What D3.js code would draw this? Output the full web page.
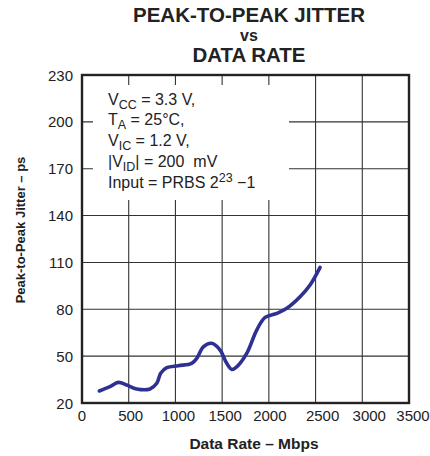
<!DOCTYPE html>
<html>
<head>
<meta charset="utf-8">
<script src="https://d3js.org/d3.v7.min.js"></script>
<style>
  body { margin: 0; background: #fff; }
  svg text { font-family: "Liberation Sans", Arial, sans-serif; fill: #222; }
  .grid line { stroke: #333; stroke-width: 1.1; }
</style>
</head>
<body>
<div id="chart"></div>
<script>
var xTicks = [0, 500, 1000, 1500, 2000, 2500, 3000, 3500];
var yTicks = [20, 50, 80, 110, 140, 170, 200, 230];

// data rate (Mbps) and jitter (ps)
var rate   = [185, 300, 389, 478, 585, 728, 800, 842, 907, 1031, 1174, 1228, 1299, 1389, 1478, 1549, 1603, 1656, 1763, 1870, 1960, 2085, 2192, 2334, 2441, 2548];
var jitter = [27.7, 30.5, 33.2, 31.5, 29, 29, 32.6, 39, 42.6, 43.9, 45.4, 48.6, 56, 58.2, 53.9, 45.4, 41.5, 43.2, 51.8, 66.7, 74.8, 77.4, 80.6, 88, 95.5, 106.8];

var margin = {top: 75, left: 82},
    width = 327, height = 328;

var svg = d3.select('#chart').append('svg')
  .attr('width', 430)
  .attr('height', 456);

var x = d3.scaleLinear().domain([0, 3500]).range([0, width]);
var y = d3.scaleLinear().domain([20, 230]).range([height, 0]);

var g = svg.append('g')
  .attr('transform', 'translate(' + margin.left + ',' + margin.top + ')');

// grid
var grid = g.append('g').attr('class', 'grid');
grid.selectAll('.vx')
  .data(xTicks.slice(1, -1))
  .enter().append('line')
  .attr('x1', function(d) { return x(d); })
  .attr('x2', function(d) { return x(d); })
  .attr('y1', 0).attr('y2', height);
grid.selectAll('.hy')
  .data(yTicks.slice(1, -1))
  .enter().append('line')
  .attr('y1', function(d) { return y(d); })
  .attr('y2', function(d) { return y(d); })
  .attr('x1', 0).attr('x2', width);

// white box behind the conditions
g.append('rect')
  .attr('x', 11).attr('y', 10)
  .attr('width', 196).attr('height', 115)
  .attr('fill', '#fff');

// frame
g.append('rect')
  .attr('width', width).attr('height', height)
  .attr('fill', 'none')
  .attr('stroke', '#222')
  .attr('stroke-width', 2.4);

// tick labels
g.selectAll('.ylab')
  .data(yTicks)
  .enter().append('text')
  .attr('x', -9)
  .attr('y', function(d) { return y(d) + 5.5; })
  .attr('text-anchor', 'end')
  .style('font-size', '15px')
  .text(function(d) { return d; });

// labels in the original sit a little off their grid lines
var xNudge = [0, 2, 3, 3, 1, 7, 7, 4];
g.selectAll('.xlab')
  .data(xTicks)
  .enter().append('text')
  .attr('x', function(d, i) { return x(d) + xNudge[i]; })
  .attr('y', height + 18)
  .attr('text-anchor', 'middle')
  .style('font-size', '15px')
  .text(function(d) { return d; });

// curve
var line = d3.line()
  .curve(d3.curveCatmullRom)
  .x(function(d, i) { return x(rate[i]); })
  .y(function(d) { return y(d); });

g.append('path')
  .datum(jitter)
  .attr('d', line)
  .attr('fill', 'none')
  .attr('stroke', '#2e3192')
  .attr('stroke-width', 3.6)
  .attr('stroke-linecap', 'round');

// conditions text
var notes = g.append('g')
  .attr('transform', 'translate(26, 0)')
  .style('font-size', '16px');

function note(yy, parts) {
  var t = notes.append('text').attr('y', yy);
  parts.forEach(function(p) {
    var s = t.append('tspan').text(p[0]);
    if (p[1] == 'sub') s.attr('baseline-shift', '-4').style('font-size', '12.5px');
    if (p[1] == 'sup') s.attr('baseline-shift', '6').style('font-size', '12.5px');
  });
}
note(30, [['V'], ['CC', 'sub'], [' = 3.3 V,']]);
note(50, [['T'], ['A', 'sub'], [' = 25\u00B0C,']]);
note(71, [['V'], ['IC', 'sub'], [' = 1.2 V,']]);
note(92, [['|V'], ['ID', 'sub'], ['| = 200\u00A0 mV']]);
note(113, [['Input = PRBS 2'], ['23', 'sup'], [' \u22121']]);

// titles
var title = svg.append('g').style('font-weight', 'bold').attr('text-anchor', 'middle');
title.append('text').attr('x', 249).attr('y', 22).style('font-size', '20.5px').text('PEAK-TO-PEAK JITTER');
title.append('text').attr('x', 249).attr('y', 41).style('font-size', '16px').text('vs');
title.append('text').attr('x', 249).attr('y', 62).style('font-size', '20.5px').text('DATA RATE');

svg.append('text')
  .attr('x', 254).attr('y', 449)
  .attr('text-anchor', 'middle')
  .style('font-weight', 'bold')
  .style('font-size', '15.5px')
  .text('Data Rate \u2013 Mbps');

svg.append('text')
  .attr('transform', 'translate(25,230) rotate(-90)')
  .attr('text-anchor', 'middle')
  .style('font-weight', 'bold')
  .style('font-size', '13px')
  .text('Peak-to-Peak Jitter \u2013 ps');
</script>
</body>
</html>
